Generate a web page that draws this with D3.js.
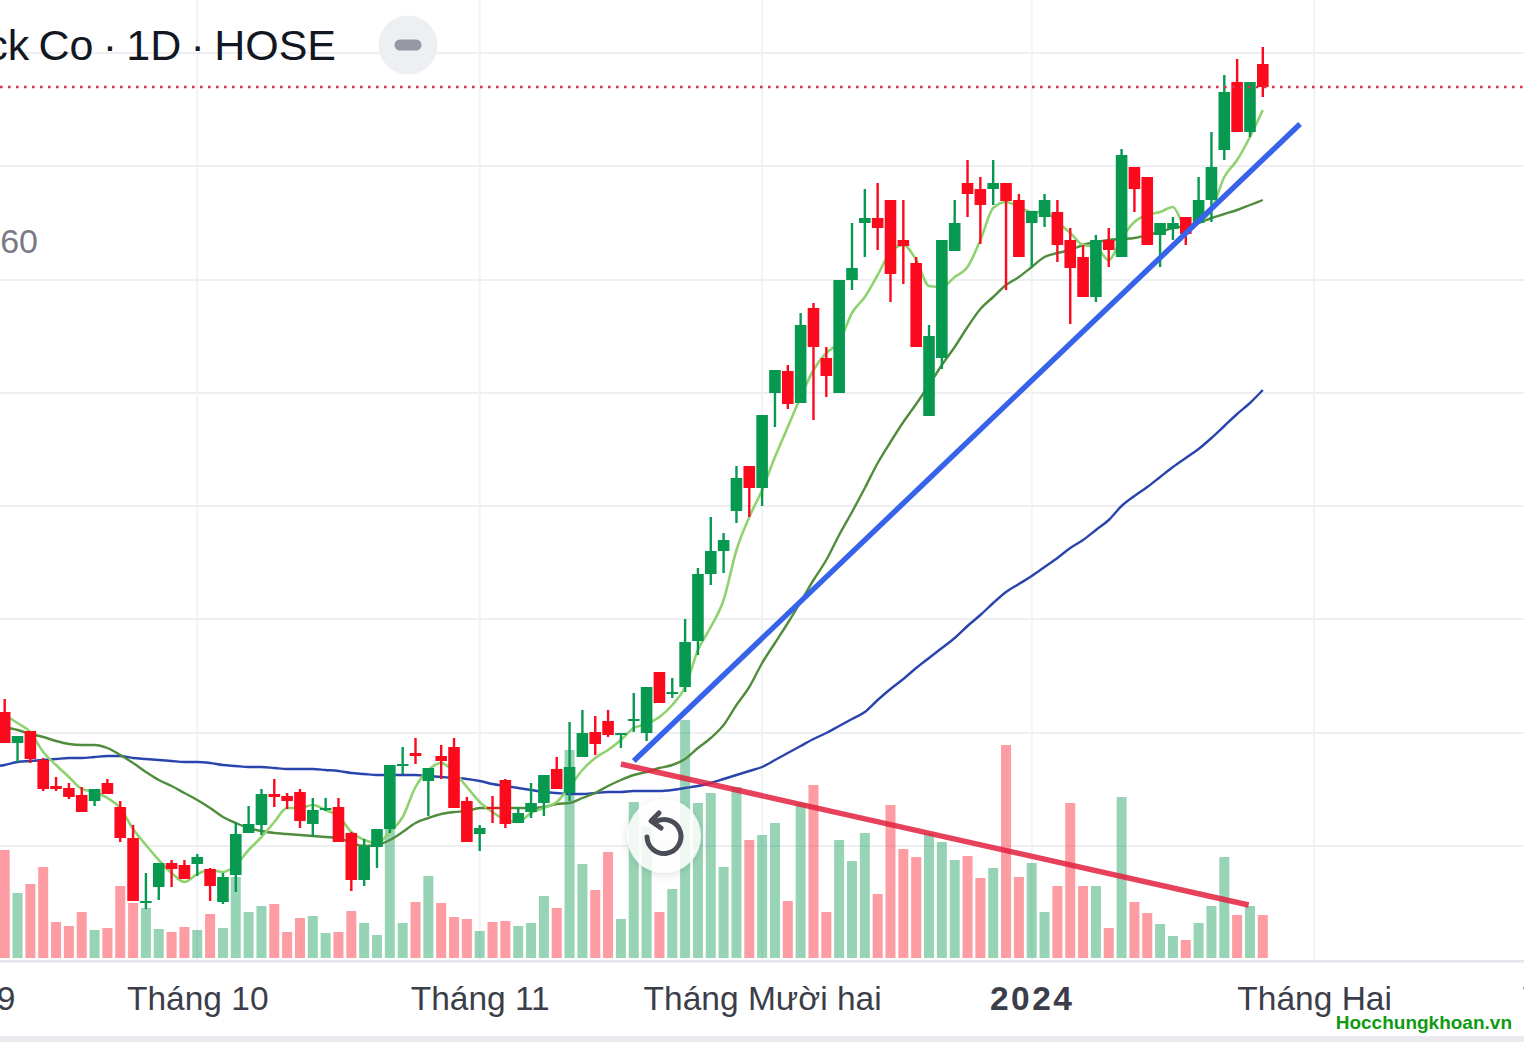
<!DOCTYPE html>
<html>
<head>
<meta charset="utf-8">
<title>HOSE 1D</title>
<script src="https://cdn.jsdelivr.net/npm/d3@7/dist/d3.min.js"></script>
<style>
	html, body { margin: 0; padding: 0; background: #fff; overflow: hidden; }
	svg { display: block; font-family: "Liberation Sans", Arial, sans-serif; }
</style>
</head>
<body>
<div id="chart"></div>
<script>
// prices are in hundreds of dong
var opens = [288,257,269,240,214,212,205,199,217,193,
	162,98,113,137,135,136,131,98,125,167,
	175,206,204,208,176,190,193,167,120,153,
	171,234,247,219,244,253,199,166,193,220,
	177,188,197,231,207,243,268,279,266,279,
	267,328,306,313,359,426,449,489,534,512,
	607,629,597,692,642,607,720,777,782,800,
	760,737,584,642,749,817,811,811,817,800,
	777,783,788,760,743,703,760,743,833,823,
	765,771,783,777,800,850,918,868,936];
var closes = [257,264,241,211,211,203,188,211,206,162,
	99,99,137,131,121,143,114,123,166,176,
	206,203,199,179,190,192,158,120,154,171,
	235,236,244,232,239,192,158,172,191,176,
	187,197,225,211,233,267,256,265,267,281,
	313,297,308,358,426,449,460,522,512,585,
	630,596,675,653,624,720,732,782,772,726,
	754,653,664,760,777,806,795,817,799,743,
	789,800,755,732,703,760,750,845,811,755,
	777,777,766,800,833,908,868,918,913];
var highs = [301,264,269,242,223,217,213,211,221,199,
	175,127,137,140,140,146,132,127,178,194,
	211,221,207,211,202,202,202,168,161,171,
	235,253,262,232,255,262,203,175,204,221,
	193,217,225,243,278,290,284,290,267,307,
	313,328,322,381,432,483,467,534,534,585,
	630,635,687,697,653,720,777,811,817,800,
	800,743,675,760,800,840,823,840,817,806,
	789,806,800,772,755,765,772,851,833,823,
	777,783,783,823,868,925,941,918,953];
var lows = [257,238,237,209,209,201,188,194,206,158,
	99,91,100,113,121,124,99,96,108,167,
	165,193,191,172,163,189,158,109,114,132,
	167,226,236,184,221,192,158,149,177,172,
	177,182,184,211,199,243,245,263,252,268,
	259,297,302,308,345,415,427,477,483,494,
	573,591,597,580,603,607,710,743,750,698,
	716,653,584,631,749,783,756,795,710,743,
	733,773,738,676,703,698,733,743,788,755,
	733,760,755,777,778,840,868,863,903];
var volumes = [108,65,74,91,36,32,46,28,30,72,
	55,50,29,26,31,28,44,30,81,46,
	52,54,26,40,42,25,26,47,35,23,
	129,35,56,82,55,41,39,27,36,37,
	32,35,62,50,208,94,68,106,39,156,
	131,46,69,238,155,165,91,171,118,123,
	135,57,155,173,46,118,97,125,64,153,
	109,101,125,116,98,102,80,90,213,81,
	95,46,72,155,72,72,30,161,56,45,
	34,22,18,35,52,101,43,52,43];
var maFast = [285,277,268,248,235,223,211,208,202,192,
	171,155,140,127,118,126,130,128,135,150,
	163,178,192,192,195,190,184,168,160,157,
	168,183,213,230,237,228,213,198,188,180,
	178,187,192,198,213,230,242,250,260,272,
	276,283,295,313,350,373,400,450,483,510,
	543,573,603,630,647,658,687,703,725,748,
	755,740,714,713,723,733,760,792,798,793,
	788,788,778,767,755,753,740,762,778,785,
	788,793,773,778,790,823,840,863,890];
var maMid = [273,270,266,263,259,256,255,255,252,245,
	237,228,220,214,207,200,192,183,177,172,
	169,167,166,165,164,163,162,157,154,155,
	160,168,177,182,186,188,189,192,192,192,
	192,192,193,196,197,202,207,214,220,225,
	228,232,235,241,252,262,275,295,313,337,
	357,377,398,420,440,465,488,512,537,558,
	578,596,615,635,653,673,691,703,715,723,
	733,743,747,750,755,758,760,761,762,765,
	768,772,774,777,782,786,790,795,800];
// starts one bar earlier than the others, the line runs off the left edge
var maSlow = [233,235,238,239,240,241,242,242,243,244,244,
	242,241,240,239,238,238,237,235,234,233,
	233,232,231,231,231,230,229,227,226,225,
	225,225,225,224,223,222,221,219,216,214,
	212,210,208,207,206,206,207,208,208,209,
	209,209,210,212,214,217,221,225,229,233,
	240,247,254,261,267,274,281,288,300,311,
	321,332,342,352,362,374,385,397,408,416,
	424,433,442,452,460,470,480,494,504,513,
	523,533,542,551,562,574,586,597,610];

var priceTicks = [947,834,720,607,494,381,267,154];
var monthTicks = [-4,15,37,59,80,102,123];
var monthLabels = ["Tháng 9","Tháng 10","Tháng 11","Tháng Mười hai","2024","Tháng Hai","Tháng 3"];
var lastPrice = 913;
var supportLine = [[49,239],[100.9,876]];
var volumeLine = [[48,236],[96.9,95]];

(function () {

	var width = 1524, height = 1042;
	var baseY = 960;

	var x = d3.scaleLinear().domain([0, 98]).range([4.7, 1262.8]);
	var y = d3.scaleLinear().domain([0, 1000]).range([1000, 0]);
	var yVol = d3.scaleLinear().domain([0, 238]).range([baseY - 2, 720]);

	var svg = d3.select("#chart").append("svg")
		.attr("width", width)
		.attr("height", height);

	var defs = svg.append("defs");
	var shadow = defs.append("filter").attr("id", "btnShadow")
		.attr("x", "-30%").attr("y", "-30%").attr("width", "160%").attr("height", "160%");
	shadow.append("feDropShadow")
		.attr("dx", 0).attr("dy", 2).attr("stdDeviation", 4)
		.attr("flood-color", "#000").attr("flood-opacity", 0.15);

	// grid
	svg.append("g").selectAll("line")
		.data(priceTicks)
		.enter().append("line")
		.attr("x1", 0).attr("x2", width)
		.attr("y1", function(d) {return y(d);})
		.attr("y2", function(d) {return y(d);})
		.attr("stroke", "#eeeff2")
		.attr("stroke-width", 2);

	svg.append("g").selectAll("line")
		.data(monthTicks)
		.enter().append("line")
		.attr("x1", function(d) {return x(d);})
		.attr("x2", function(d) {return x(d);})
		.attr("y1", 0).attr("y2", baseY)
		.attr("stroke", "#f1f2f5")
		.attr("stroke-width", 2);

	var idx = d3.range(opens.length);
	function isUp(i) { return closes[i] >= opens[i]; }

	// volume
	svg.append("g").selectAll("rect")
		.data(idx)
		.enter().append("rect")
		.attr("x", function(i) {return x(i) - 5;})
		.attr("width", 10)
		.attr("y", function(i) {return yVol(volumes[i]);})
		.attr("height", function(i) {return yVol(0) - yVol(volumes[i]);})
		.attr("fill", function(i) {return isUp(i) ? "#089950" : "#fb3a48";})
		.attr("fill-opacity", function(i) {return isUp(i) ? 0.42 : 0.5;});

	// moving averages
	var line = d3.line()
		.x(function(d, i) {return x(i);})
		.y(function(d) {return y(d);})
		.curve(d3.curveMonotoneX);

	var lineSlow = d3.line()
		.x(function(d, i) {return x(i - 1);})
		.y(function(d) {return y(d);})
		.curve(d3.curveMonotoneX);

	svg.append("path").attr("d", lineSlow(maSlow))
		.attr("fill", "none").attr("stroke", "#2a44ad").attr("stroke-width", 2.4);
	svg.append("path").attr("d", line(maMid))
		.attr("fill", "none").attr("stroke", "#4f8c3c").attr("stroke-width", 2.4);
	svg.append("path").attr("d", line(maFast))
		.attr("fill", "none").attr("stroke", "#8fd270").attr("stroke-width", 2.6);

	// candles
	var candles = svg.append("g").selectAll("g")
		.data(idx)
		.enter().append("g")
		.attr("fill", function(i) {return isUp(i) ? "#089950" : "#fb0a1e";});

	candles.append("rect")
		.attr("x", function(i) {return x(i) - 1.2;})
		.attr("width", 2.4)
		.attr("y", function(i) {return y(highs[i]);})
		.attr("height", function(i) {return y(lows[i]) - y(highs[i]);});

	candles.append("rect")
		.attr("x", function(i) {return x(i) - 5.8;})
		.attr("width", 11.6)
		.attr("y", function(i) {return y(Math.max(opens[i], closes[i]));})
		.attr("height", function(i) {return Math.max(2, Math.abs(opens[i] - closes[i]));});

	// last price
	svg.append("line")
		.attr("x1", 0).attr("x2", width)
		.attr("y1", y(lastPrice)).attr("y2", y(lastPrice))
		.attr("stroke", "#dc2f48")
		.attr("stroke-width", 2.6)
		.attr("stroke-dasharray", "2.6,5.4");

	// drawn trend lines
	var trend = d3.line()
		.x(function(d) {return x(d[0]);})
		.y(function(d) {return y(d[1]);});

	svg.append("path").attr("d", trend(supportLine))
		.attr("fill", "none").attr("stroke", "#3763ea").attr("stroke-width", 5.4);
	svg.append("path").attr("d", trend(volumeLine))
		.attr("fill", "none").attr("stroke", "#e3203e").attr("stroke-opacity", 0.85).attr("stroke-width", 5.4);

	// time axis
	svg.append("rect")
		.attr("x", 0).attr("y", baseY).attr("width", width).attr("height", 2.5)
		.attr("fill", "#e4e6ef");
	svg.append("rect")
		.attr("x", 0).attr("y", 1036).attr("width", width).attr("height", 6)
		.attr("fill", "#e9e9ee");

	var axis = d3.axisBottom(x)
		.tickValues(monthTicks)
		.tickSize(0)
		.tickPadding(26)
		.tickFormat(function(d, i) {return monthLabels[i];});

	var axisG = svg.append("g")
		.attr("transform", "translate(0," + baseY + ")")
		.call(axis);
	axisG.select(".domain").remove();
	axisG.selectAll("text")
		.attr("fill", "#3b3e49")
		.style("font-family", "'Liberation Sans', Arial, sans-serif")
		.style("font-size", "33.5px")
		.style("font-weight", function(d, i) {return monthLabels[i] === "2024" ? "bold" : "normal";})
		.style("letter-spacing", function(d, i) {return monthLabels[i] === "2024" ? "2.5px" : "0";});

	// header
	svg.append("text")
		.attr("x", 336).attr("y", 60)
		.attr("text-anchor", "end")
		.attr("fill", "#131722")
		.style("font-size", "43px")
		.style("word-spacing", "-2.7px")
		.text("Stock Co · 1D · HOSE");

	svg.append("circle")
		.attr("cx", 408).attr("cy", 45).attr("r", 29.5)
		.attr("fill", "#eeeff2");
	svg.append("rect")
		.attr("x", 394.5).attr("y", 39.5).attr("width", 27).attr("height", 11).attr("rx", 5.5)
		.attr("fill", "#9598a3");

	svg.append("text")
		.attr("x", 38).attr("y", 253)
		.attr("text-anchor", "end")
		.attr("fill", "#787b86")
		.style("font-size", "34px")
		.text("60");

	// reset button
	var btn = svg.append("g").attr("transform", "translate(664,836)");
	btn.append("circle")
		.attr("r", 37)
		.attr("fill", "#fff")
		.attr("fill-opacity", 0.86)
		.attr("filter", "url(#btnShadow)");
	btn.append("path")
		.attr("d", "M-7,-15A17,17 0 1 1 -17,1")
		.attr("fill", "none")
		.attr("stroke", "#4a4c57")
		.attr("stroke-width", 5)
		.attr("stroke-linecap", "round");
	btn.append("path")
		.attr("d", "M-5,-23L-13,-15L-3,-8")
		.attr("fill", "none")
		.attr("stroke", "#4a4c57")
		.attr("stroke-width", 5)
		.attr("stroke-linecap", "round")
		.attr("stroke-linejoin", "round");

	// watermark
	svg.append("text")
		.attr("x", 1512).attr("y", 1029)
		.attr("text-anchor", "end")
		.attr("fill", "#0f9a14")
		.style("font-size", "19px")
		.style("font-weight", "bold")
		.text("Hocchungkhoan.vn");

}) ();
</script>
</body>
</html>
